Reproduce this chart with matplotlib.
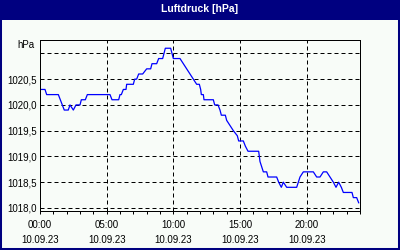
import matplotlib
matplotlib.use("Agg")
import matplotlib.pyplot as plt
from matplotlib.patches import Rectangle
from matplotlib.ticker import MultipleLocator, FuncFormatter

# Luftdruck am 10.09.23, Stunden ab 00:00
hours = [0.0, 0.375, 0.5, 1.375, 1.82, 2.12, 2.25, 2.5, 2.7, 3.0, 3.1, 3.4,
         3.55, 5.25, 5.4, 5.9, 6.0, 6.1, 6.25, 6.45, 6.5, 7.0, 7.1, 7.25,
         7.4, 7.7, 8.0, 8.3, 8.4, 8.75, 8.9, 9.2, 9.3, 9.4, 9.8, 10.0,
         10.5, 10.75, 11.0, 11.25, 11.5, 11.75, 11.95, 12.05, 12.1, 12.25,
         12.3, 13.0, 13.1, 13.35, 13.5, 13.6, 13.9, 14.0, 14.25, 14.5,
         14.8, 14.9, 15.25, 15.4, 15.6, 16.4, 16.5, 16.75, 17.0, 17.1,
         17.75, 17.9, 18.1, 18.25, 18.5, 19.25, 19.5, 19.75, 20.5, 20.75,
         21.0, 21.25, 21.5, 21.75, 22.0, 22.2, 22.4, 22.6, 22.75, 23.4,
         23.5, 23.75, 23.9]
pressure = [1020.3, 1020.3, 1020.2, 1020.2, 1019.9, 1019.9, 1020.0, 1019.9,
            1020.0, 1020.0, 1020.1, 1020.1, 1020.2, 1020.2, 1020.1, 1020.1,
            1020.2, 1020.2, 1020.3, 1020.3, 1020.4, 1020.4, 1020.5, 1020.5,
            1020.6, 1020.6, 1020.7, 1020.7, 1020.8, 1020.8, 1020.9, 1020.9,
            1021.0, 1021.1, 1021.1, 1020.9, 1020.9, 1020.8, 1020.7, 1020.6,
            1020.5, 1020.4, 1020.4, 1020.3, 1020.2, 1020.2, 1020.1, 1020.1,
            1020.0, 1020.0, 1019.9, 1019.8, 1019.8, 1019.7, 1019.6, 1019.5,
            1019.4, 1019.3, 1019.3, 1019.2, 1019.1, 1019.1, 1018.9, 1018.7,
            1018.7, 1018.6, 1018.6, 1018.5, 1018.4, 1018.5, 1018.4, 1018.4,
            1018.6, 1018.7, 1018.7, 1018.6, 1018.6, 1018.7, 1018.7, 1018.6,
            1018.5, 1018.4, 1018.5, 1018.4, 1018.3, 1018.3, 1018.2, 1018.2,
            1018.1]
date_label = "10.09.23"
title = "Luftdruck [hPa]"

navy = "#000080"
bg = "#F8FCF8"

plt.rcParams["font.family"] = ["Liberation Sans", "DejaVu Sans"]

fig = plt.figure(figsize=(4, 2.5), dpi=100, facecolor=bg)
ax = fig.add_axes([0.1, 0.156, 0.8, 0.684], facecolor=bg)

# title bar + border
fig.patches.append(Rectangle((0, 0.92), 1, 0.08, transform=fig.transFigure,
                             facecolor=navy, edgecolor="none", zorder=0))
fig.patches.append(Rectangle((0, 0), 1, 1, transform=fig.transFigure,
                             facecolor="none", edgecolor=navy, lw=2.9, zorder=5))
fig.text(0.5, 1 - 9.5 / 250, title, color="white", fontsize=7.5,
         fontweight="bold", ha="center", va="center")

ax.plot(hours, pressure, color="#0000FF", lw=0.9)

ax.set_xlim(0, 24)
ax.set_ylim(1017.94, 1021.26)

ax.xaxis.set_major_locator(MultipleLocator(5))
ax.xaxis.set_minor_locator(MultipleLocator(1))
ax.xaxis.set_major_formatter(FuncFormatter(lambda v, p: f"{int(v):02d}:00\n{date_label}"))
ax.yaxis.set_major_locator(MultipleLocator(0.5))
ax.yaxis.set_major_formatter(FuncFormatter(
    lambda v, p: "" if v > 1020.9 else f"{v:.1f}".replace(".", ",")))

ax.tick_params(axis="x", which="both", direction="out", length=2.2, width=0.72,
               labelsize=7, pad=4)
ax.tick_params(axis="y", length=0, labelsize=7, pad=2.5)
for lbl in ax.get_xticklabels():
    lbl.set_linespacing(1.7)

ax.grid(True, which="major", color="black", lw=0.72, linestyle=(0, (4, 3)))
for s in ax.spines.values():
    s.set_linewidth(0.72)
    s.set_color("black")

fig.text(35 / 400, 1 - 45 / 250, "hPa", fontsize=7, ha="right", va="center")

fig.savefig("out.png", dpi=100, facecolor=bg)
